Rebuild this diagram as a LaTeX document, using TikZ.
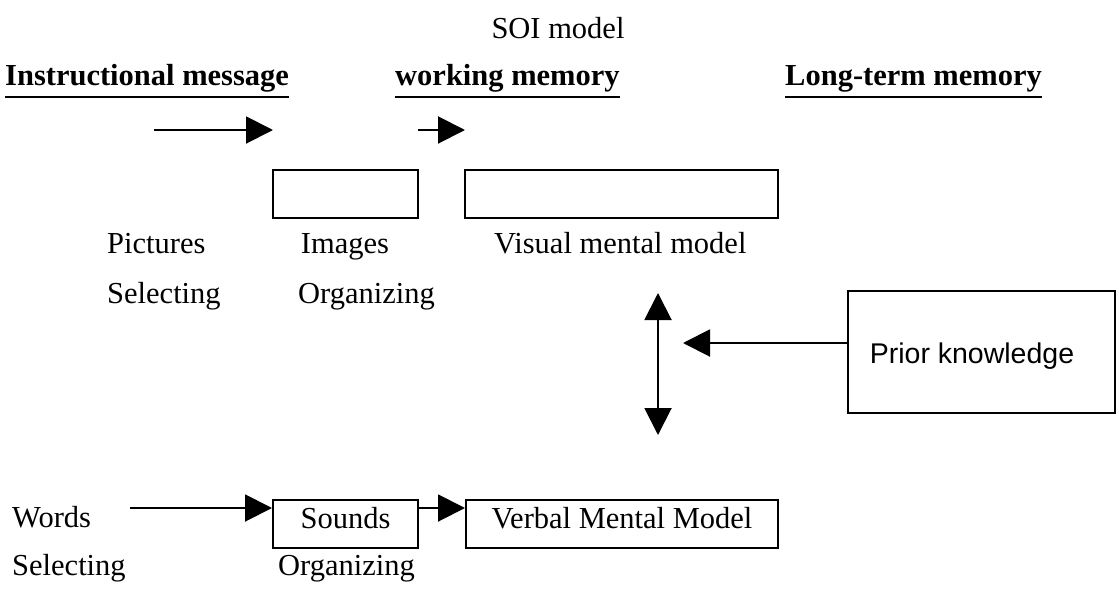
\documentclass[tikz,border=0pt]{standalone}
\usepackage{fontspec}
\setmainfont{Liberation Serif}
\newfontfamily\arialfont{Liberation Sans}
\usetikzlibrary{arrows.meta,calc}
\begin{document}
\begin{tikzpicture}[x=1pt,y=-1pt,
  txt/.style={font=\fontsize{30.5}{36}\selectfont, inner sep=0pt, anchor=base west},
  hdr/.style={font=\fontsize{30.5}{36}\selectfont\bfseries, inner sep=0pt, anchor=base west},
  boxnode/.style={draw, line width=2pt, inner sep=0pt, minimum height=48pt,
    font=\fontsize{30.5}{36}\selectfont, text height=20pt, text depth=12pt},
  arr/.style={line width=2pt, -{Triangle[length=27pt,width=27pt]}},
  dblarr/.style={line width=2pt, {Triangle[length=27pt,width=27pt]}-{Triangle[length=27pt,width=27pt]}},
  uline/.style={line width=2pt}]
\useasboundingbox (0,0) rectangle (1119,592);

% title and headers
\node[txt, anchor=base] (title) at (558,38) {SOI model};
\node[hdr] (h1) at (5,85) {Instructional message};
\node[hdr] (h2) at (395,85) {working memory};
\node[hdr] (h3) at (785,85) {Long-term memory};
\foreach \h in {h1,h2,h3}
  \draw[uline] ($(\h.base west)+(0,12)$) -- ($(\h.base east)+(0,12)$);

% top arrows
\coordinate (t1s) at (154,130);
\coordinate (t1e) at (273,130);
\coordinate (t2s) at (418,130);
\coordinate (t2e) at (465,130);
\draw[arr] (t1s) -- (t1e);
\draw[arr] (t2s) -- (t2e);

% visual channel boxes
\node[boxnode, minimum width=145pt] (images) at (345.5,194) {};
\node[boxnode, minimum width=313pt] (visual) at (621.5,194) {};

% labels
\node[txt] (pictures) at (107,253) {Pictures};
\node[txt, anchor=base] (imagesl) at (345,253) {Images};
\node[txt] (visuall) at (494,253) {Visual mental model};
\node[txt] (sel1) at (107,303) {Selecting};
\node[txt] (org1) at (298,303) {Organizing};

% double arrow
\coordinate (da1) at (658,293);
\coordinate (da2) at (658,435);
\draw[dblarr] (da1) -- (da2);

% prior knowledge
\node[draw, line width=2pt, inner sep=0pt, minimum width=267pt, minimum height=122pt,
  font=\fontsize{28.5}{34}\selectfont\arialfont, text height=28pt, text depth=6pt]
  (prior) at (981.5,352) {\hspace*{-19pt}Prior knowledge};
\coordinate (pk) at (683,343);
\draw[arr] ($(prior.west)+(0,-9)$) -- (pk);

% verbal channel
\node[txt] (words) at (12,527) {Words};
\node[boxnode, minimum width=145pt] (sounds) at (345.5,524) {Sounds};
\node[boxnode, minimum width=312pt] (verbal) at (622,524) {Verbal Mental Model};
\coordinate (sin) at ($(sounds.west)+(0,-16)$);
\coordinate (sout) at ($(sounds.east)+(0,-16)$);
\coordinate (ws) at (sin -| 130,0);
\draw[arr] (ws) -- (sin);
\draw[arr] (sout) -- (sout -| verbal.west);
\node[txt] (sel2) at (12,575) {Selecting};
\node[txt] (org2) at (278,575) {Organizing};
\end{tikzpicture}
\end{document}
